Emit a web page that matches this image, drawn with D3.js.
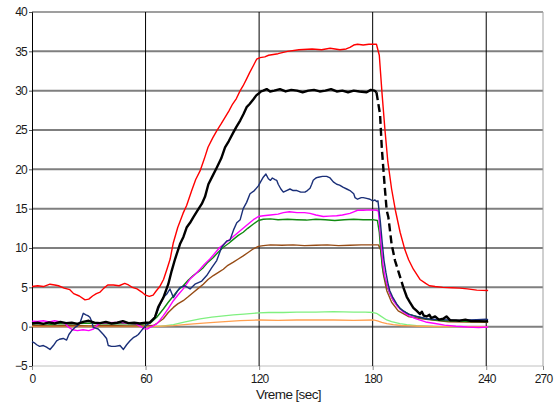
<!DOCTYPE html>
<html>
<head>
<meta charset="utf-8">
<script src="https://cdn.jsdelivr.net/npm/d3@7"></script>
<style>
  html, body { margin: 0; padding: 0; background: #fff; }
  svg { display: block; }
  text { font-family: "Liberation Sans", Arial, sans-serif; fill: #1a1a1a; }
</style>
</head>
<body>
<svg id="chart" width="555" height="406"></svg>
<script>
// Axis ticks
const xTicks = [0, 60, 120, 180, 240, 270];
const yTicks = [-5, 0, 5, 10, 15, 20, 25, 30, 35, 40];
const xLabel = "Vreme [sec]";

// Measured traces: [time in s, value]
const redSeries = [[0,5.1],[3,5.2],[6,5.1],[9.5,5.4],[12,5.3],[14,5.2],[17,4.9],[20,4.7],[22,4.2],[25,3.9],[28,3.4],[30,3.5],[32,3.9],[34,4.2],[36,4.4],[38,4.9],[40,5.3],[43,5.3],[46,5.2],[49,5.5],[51,5.3],[53,5.0],[55.5,4.8],[58,4.4],[60,4.0],[62,3.85],[64,4.0],[65.5,4.5],[67.5,5.1],[69.5,6.0],[71.3,7.3],[73,8.6],[74.6,10.6],[77,12.6],[79.8,14.4],[81.7,15.4],[84.4,17.3],[86.5,18.7],[88.8,19.8],[91,21.3],[93,22.8],[95.5,24.0],[97.6,24.9],[100,25.8],[102,26.6],[104,27.4],[106,28.3],[108,29.0],[110,30.0],[111.5,30.6],[113.4,31.5],[115,32.3],[117,33.2],[118.7,34.0],[120.5,34.2],[123,34.3],[125,34.5],[130,34.7],[135,35.0],[141,35.2],[148,35.3],[153,35.2],[157.5,35.4],[162.7,35.2],[166,35.3],[168,35.5],[170,35.8],[172,35.9],[175,35.8],[178,35.9],[182,35.9],[183.5,34.5],[185,29.5],[186.5,25],[188,21],[190,17.5],[192,14.8],[194.5,12.0],[197,9.8],[199,8.5],[201.5,7.3],[205,6.0],[208,5.5],[210,5.2],[213,5.1],[217,5.0],[222,4.95],[226,4.9],[230,4.8],[235,4.65],[241,4.6]];

const blackSeries = [[0,0.4],[3,0.5],[6,0.35],[9,0.55],[12,0.4],[15,0.6],[18,0.45],[21,0.5],[24,0.35],[27,0.6],[30,0.75],[33,0.5],[36,0.45],[39,0.6],[42,0.4],[45,0.5],[48,0.7],[51,0.45],[54,0.5],[57,0.4],[60,0.5],[62.3,0.55],[65,1.2],[66.7,2.5],[69.4,3.7],[72,5.4],[73.8,7.1],[75.6,8.6],[78.2,10.5],[80,11.4],[81.7,12.6],[83.5,13.2],[85.2,13.9],[87.9,14.95],[89.7,15.6],[91.4,16.5],[93.2,18.1],[95.5,19.2],[97.6,20.2],[100,21.4],[102,22.8],[104,23.6],[106.4,24.7],[108,25.4],[110,26.2],[111.7,27.0],[113.4,27.9],[115,28.3],[117,28.9],[118.5,29.4],[119.6,29.6],[121,29.9],[122.2,30.0],[124,30.2],[125.8,29.9],[128,30.0],[131,30.2],[134,29.9],[137,30.1],[140,30.0],[143,29.8],[146,30.0],[149,30.1],[152,29.9],[155,30.0],[158,30.2],[161,29.9],[164,30.0],[167,29.8],[170,30.0],[173,29.9],[176.8,29.8],[179,30.1],[181,30.0],[182,29.8],[183.9,27],[184.8,22.8],[186.2,18.3],[187.4,14.8],[188.3,13.9],[190,10.5],[191.8,8.4],[193.5,7.1],[196.2,5.0],[198,3.8],[199.7,3.1],[201.5,2.4],[203.3,2.0],[205,1.6],[206,1.9],[207,1.4],[208.5,1.3],[210,1.5],[211,1.1],[213,1.3],[215,0.9],[217.3,1.0],[219,1.3],[221,0.8],[224,0.8],[226,0.76],[229,0.9],[232,0.7],[236,0.7],[240,0.67],[241,0.7]];
// span of the black trace shown dashed (fast fall after switch-off)
const blackDashed = [182, 196.2];

const navySeries = [[0,-1.9],[1.5,-2.1],[2.5,-2.3],[4,-2.5],[6,-2.4],[7.7,-2.6],[9.5,-2.9],[11.3,-2.4],[13,-1.8],[14.5,-1.6],[16.5,-1.5],[18.3,-1.7],[19.5,-1.0],[21,-0.5],[22.7,-0.1],[24,0.1],[25.4,0.5],[27.1,1.7],[28.5,1.5],[29.5,1.4],[30.6,1.2],[31.5,0.7],[32.4,-0.1],[35,-0.3],[37.7,-1.0],[39.4,-1.5],[40.3,-2.4],[42,-2.5],[43.9,-2.5],[46.5,-2.4],[48.3,-2.9],[50,-2.3],[51.8,-1.8],[53.5,-1.4],[55,-1.2],[56.2,-1.0],[57.5,-0.6],[58.8,-0.2],[60.5,0.2],[61.5,0.35],[63,0.7],[64.1,0.9],[65.9,1.7],[67.6,2.8],[69.4,3.7],[71.2,4.15],[72.9,4.8],[74.7,3.7],[76.5,4.4],[78.2,5.0],[80.8,5.2],[83.5,4.8],[86.1,5.4],[89.7,5.8],[92.3,6.5],[95,7.5],[97.6,8.4],[100.2,10.1],[102.9,10.9],[104.6,11.0],[106.5,12.3],[108.2,13.2],[110,13.6],[111.6,15.0],[113.4,15.8],[115.2,16.9],[117.5,17.3],[119.6,17.9],[121,18.5],[122.2,19.0],[123.6,19.4],[124.9,18.8],[126,18.6],[127,18.9],[128.4,18.7],[129.3,18.6],[130.1,18.1],[131.5,17.5],[132.8,17.1],[134.5,17.3],[136.3,17.5],[138,17.3],[140,17.3],[142,17.1],[144.2,17.1],[145.5,17.3],[146.9,17.6],[147.8,18.1],[148.6,18.6],[150,18.9],[151.3,19.0],[153.5,19.1],[155.7,19.1],[157.5,18.9],[159.2,18.4],[161,18.1],[162.5,18.0],[164.5,17.7],[166.3,17.5],[168,17.3],[170,16.9],[170.7,16.4],[172,16.2],[174,16.4],[175,16.4],[176.8,16.3],[178.6,16.2],[180,16.0],[181.2,16.1],[182.2,15.9],[182.8,16.0],[183.5,14.5],[184,13.5],[185,10.8],[186,8.4],[187,6.9],[188,5.6],[189,4.6],[190.5,3.8],[192.7,2.9],[194.5,2.3],[196.2,2.0],[199,1.6],[201.5,1.4],[205,1.2],[208.5,1.0],[212,0.95],[216,0.9],[220,0.85],[225,0.8],[230,0.85],[235,0.9],[240,0.95],[241,0.9]];

const magentaSeries = [[0,0.7],[3,0.65],[6,0.75],[9,0.6],[12,0.75],[15,0.6],[17.5,0.4],[19.5,-0.1],[21.5,-0.4],[24,-0.5],[27,-0.4],[30,-0.5],[32.5,-0.3],[34,0.1],[36,0.45],[40,0.5],[45,0.55],[50,0.45],[55,0.35],[57.5,0.0],[59,-0.25],[61,-0.3],[62.3,-0.1],[64,0.1],[65.9,0.35],[67.5,0.8],[69.4,1.4],[72,2.3],[74.7,3.3],[77,4.0],[79.9,4.8],[83.5,6.05],[86,6.6],[88.8,7.3],[91,7.9],[94,8.6],[96.5,9.3],[99.3,10.1],[102,10.6],[104.6,11.1],[107,11.6],[110,12.2],[112.5,12.7],[115.2,13.25],[117,13.6],[119.6,14.0],[122.2,14.1],[126,14.2],[130,14.3],[132.8,14.5],[136,14.6],[140,14.5],[144,14.5],[146.9,14.4],[150,14.2],[153.9,14.0],[157,14.05],[161,14.1],[164,14.2],[168,14.4],[170,14.6],[172,14.8],[175,14.8],[178.6,14.85],[182,14.8],[183,14.7],[183.8,12.5],[184.6,10],[185.5,7.8],[186.5,6.3],[188,5.0],[189.5,4.0],[191,3.3],[193,2.6],[196,1.9],[199,1.4],[203,1.0],[208,0.6],[213,0.4],[218,0.2],[224,0.05],[230,-0.05],[236,-0.1],[241,-0.05]];

const greenSeries = [[0,0.35],[5,0.4],[10,0.3],[15,0.4],[20,0.35],[25,0.4],[30,0.45],[35,0.35],[40,0.4],[45,0.35],[50,0.4],[55,0.3],[60,0.35],[62.3,0.4],[65.9,1.2],[69.4,2.25],[72,3.1],[74.7,3.9],[77,4.6],[79.9,5.2],[82.5,5.9],[85.2,6.5],[88,7.0],[90.5,7.5],[93,8.2],[95.8,8.8],[98.5,9.5],[101.1,10.1],[104,10.6],[106.4,11.1],[109,11.6],[111.6,12.0],[114,12.5],[117,13.05],[119.6,13.5],[122.2,13.65],[126,13.7],[130,13.6],[135,13.65],[140,13.6],[145,13.55],[150,13.65],[155,13.6],[160,13.5],[165,13.6],[170,13.65],[175,13.6],[180,13.6],[182.5,13.5],[183.5,12.0],[184.3,9.5],[185.2,7.4],[186.5,6.0],[188,4.9],[189.5,4.0],[191,3.3],[193,2.7],[196,2.0],[199,1.6],[203,1.3],[208,1.0],[213,0.85],[218,0.75],[225,0.7],[232,0.65],[241,0.65]];

const brownSeries = [[0,0.15],[10,0.1],[20,0.15],[30,0.1],[40,0.15],[50,0.1],[60,0.1],[64.1,0.15],[66.5,0.5],[69.4,1.0],[72,1.8],[74.7,2.45],[77,2.9],[79.9,3.3],[82.5,3.8],[85.2,4.35],[88,4.9],[90.5,5.4],[93,6.0],[95.8,6.5],[98.5,6.9],[101.1,7.3],[103.5,7.8],[106.4,8.2],[109,8.6],[111.6,9.0],[114,9.4],[117,9.9],[119.6,10.2],[122.2,10.3],[126,10.4],[132,10.35],[138,10.4],[144,10.3],[150,10.35],[156,10.4],[162,10.3],[168,10.35],[174,10.4],[180,10.4],[183,10.4],[184.4,9.7],[185.6,6.7],[187.4,4.6],[190,3.1],[193.5,2.0],[198.8,1.3],[205.9,1.0],[213,0.8],[220,0.63],[230,0.58],[241,0.55]];

const lightGreenSeries = [[0,0.05],[20,0.05],[40,0.05],[60,0.05],[63,0.0],[67.6,0.05],[74.7,0.25],[81,0.6],[88.8,1.0],[95,1.2],[100,1.35],[106.4,1.5],[112,1.6],[119.6,1.75],[125,1.8],[132.8,1.8],[140,1.85],[150,1.85],[159.2,1.9],[170,1.85],[176,1.85],[180.3,1.8],[182,1.7],[183.9,1.4],[187.4,0.85],[190,0.65],[194.4,0.4],[198,0.25],[203.3,0.13],[212,0.02],[225,0.0],[241,0.0]];

const orangeSeries = [[0,0.0],[20,0.02],[40,0.0],[60,0.02],[63,0.0],[74.7,0.13],[82,0.3],[92.3,0.47],[100,0.6],[110,0.76],[119.6,0.85],[130,0.8],[140,0.85],[150,0.85],[159.2,0.85],[170,0.8],[180.3,0.85],[182.5,0.75],[184.8,0.55],[187.5,0.4],[190.9,0.25],[195,0.15],[199.7,0.1],[205,0.05],[215,0.0],[241,0.0]];

const svg = d3.select("#chart");
const x = d3.scaleLinear().domain([0, 270]).range([32, 543]);
const y = d3.scaleLinear().domain([-5, 40]).range([366, 12]);

// Plot frame and grid
const grid = svg.append("g");
grid.selectAll("line.h")
  .data(yTicks.filter(v => v > -5))
  .join("line")
  .attr("x1", x(0)).attr("x2", x(270))
  .attr("y1", d => y(d)).attr("y2", d => y(d))
  .attr("stroke", "#7f7f7f")
  .attr("stroke-width", d => d === 40 ? 1.5 : 2);
grid.append("line")
  .attr("x1", x(0)).attr("x2", x(270))
  .attr("y1", y(-5)).attr("y2", y(-5))
  .attr("stroke", "#c0c0c0").attr("stroke-width", 1);
grid.append("line")
  .attr("x1", x(270)).attr("x2", x(270))
  .attr("y1", y(40)).attr("y2", y(-5))
  .attr("stroke", "#a0a0a0").attr("stroke-width", 1);
grid.selectAll("line.v")
  .data([60, 120, 180, 240])
  .join("line")
  .attr("x1", d => x(d)).attr("x2", d => x(d))
  .attr("y1", y(40)).attr("y2", y(-5))
  .attr("stroke", "#000").attr("stroke-width", 1);

// Axes
const yAxis = d3.axisLeft(y).tickValues(yTicks).tickSize(3).tickPadding(2).tickFormat(d3.format("d"));
const gy = svg.append("g").attr("transform", `translate(${x(0)},0)`).call(yAxis);
gy.select(".domain").attr("stroke", "#000");
gy.selectAll(".tick line").attr("stroke", "#555");
gy.selectAll("text").attr("font-size", 12).attr("letter-spacing", "-0.8px").attr("fill", "#1a1a1a")
  .attr("font-family", "Liberation Sans, Arial, sans-serif");

const xAxis = d3.axisBottom(x).tickValues(xTicks).tickSize(4).tickPadding(4).tickFormat(d3.format("d"));
const gx = svg.append("g").attr("transform", `translate(0,${y(-5)})`).call(xAxis);
gx.select(".domain").remove();
gx.selectAll(".tick line").attr("stroke", "#888");
gx.selectAll("text").attr("font-size", 12).attr("letter-spacing", "-0.8px").attr("fill", "#1a1a1a")
  .attr("font-family", "Liberation Sans, Arial, sans-serif");

svg.append("text")
  .attr("x", (x(0) + x(270)) / 2 + 1)
  .attr("y", 399)
  .attr("text-anchor", "middle")
  .attr("font-size", 13.5)
  .attr("letter-spacing", "-0.6px")
  .text(xLabel);

// Traces
const line = d3.line().x(d => x(d[0])).y(d => y(d[1]));
const plot = svg.append("g");
const traces = [
  { data: lightGreenSeries, color: "#80f080", width: 1.3 },
  { data: orangeSeries, color: "#ffa050", width: 1.3 },
  { data: brownSeries, color: "#964b14", width: 1.4 },
  { data: greenSeries, color: "#108a10", width: 1.4 },
  { data: magentaSeries, color: "#ff00ff", width: 1.4 },
  { data: navySeries, color: "#1a2f78", width: 1.4 },
  { data: redSeries, color: "#ff0000", width: 1.4 }
];
traces.forEach(s => {
  plot.append("path").datum(s.data)
    .attr("d", line)
    .attr("fill", "none")
    .attr("stroke", s.color)
    .attr("stroke-width", s.width)
    .attr("stroke-linejoin", "round");
});

// Black trace: solid, dashed during the fast fall, then solid again
const blackParts = [
  { data: blackSeries.filter(d => d[0] <= blackDashed[0]), dash: null },
  { data: blackSeries.filter(d => d[0] >= blackDashed[0] && d[0] <= blackDashed[1]), dash: "8,4" },
  { data: blackSeries.filter(d => d[0] >= blackDashed[1]), dash: null }
];
blackParts.forEach(p => {
  plot.append("path").datum(p.data)
    .attr("d", line)
    .attr("fill", "none")
    .attr("stroke", "#000")
    .attr("stroke-width", 2.4)
    .attr("stroke-linejoin", "round")
    .attr("stroke-dasharray", p.dash);
});
</script>
</body>
</html>
